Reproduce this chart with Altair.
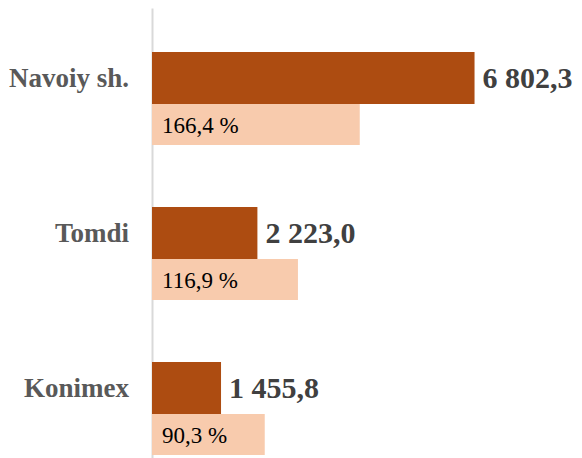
import altair as alt
import pandas as pd

categories = ["Navoiy sh.", "Tomdi", "Konimex"]
volumes = [6802.3, 2223.0, 1455.8]
growth_pct = [166.4, 116.9, 90.3]

DARK = "#AD4C11"
LIGHT = "#F8CBAD"
FONT = "Liberation Serif"


def fmt_num(v):
    return f"{v:,.1f}".replace(",", " ").replace(".", ",")


df = pd.DataFrame({"cat": categories, "vol": volumes, "pct": growth_pct})
df["vol_label"] = df["vol"].map(fmt_num)
df["pct_label"] = df["pct"].map(lambda v: f"{v:.1f}".replace(".", ",") + " %")

W, H = 422, 465

yenc = alt.Y(
    "cat:N",
    sort=categories,
    scale=alt.Scale(paddingInner=0, paddingOuter=0),
    axis=alt.Axis(title=None, labels=False, ticks=False, grid=False,
                  domainColor="#D9D9D9", domainWidth=2),
)

xdark = alt.X("vol:Q", scale=alt.Scale(domain=[0, 8900]), axis=None)
xlight = alt.X("pct:Q", scale=alt.Scale(domain=[0, 338]), axis=None)

base = alt.Chart(df)

light_bar = base.mark_bar(height=41, yOffset=39, color=LIGHT).encode(x=xlight, y=yenc)
dark_bar = base.mark_bar(height=52, yOffset=-7.5, color=DARK).encode(x=xdark, y=yenc)

dark_text = base.mark_text(
    align="left", baseline="middle", dx=8, yOffset=-6.5,
    font=FONT, fontWeight="bold", fontSize=30, color="#404040",
).encode(x=xdark, y=yenc, text="vol_label:N")

cat_text = base.mark_text(
    align="right", baseline="middle", yOffset=-6.5,
    font=FONT, fontWeight="bold", fontSize=27, color="#595959",
).encode(x=alt.value(-23), y=yenc, text="cat:N")

pct_text = base.mark_text(
    align="left", baseline="middle", yOffset=40,
    font=FONT, fontSize=23, color="#000000",
).encode(x=alt.value(10), y=yenc, text="pct_label:N")

chart = (
    alt.layer(light_bar, dark_bar, dark_text, cat_text, pct_text)
    .resolve_scale(x="independent")
    .properties(
        width=W, height=H,
        autosize=alt.AutoSizeParams(type="none"),
        padding={"left": 144, "top": 0, "right": 0, "bottom": 0},
        background="white",
    )
    .configure_view(stroke=None)
)

chart.save("out.html", embed_options={"renderer": "svg", "actions": False})
